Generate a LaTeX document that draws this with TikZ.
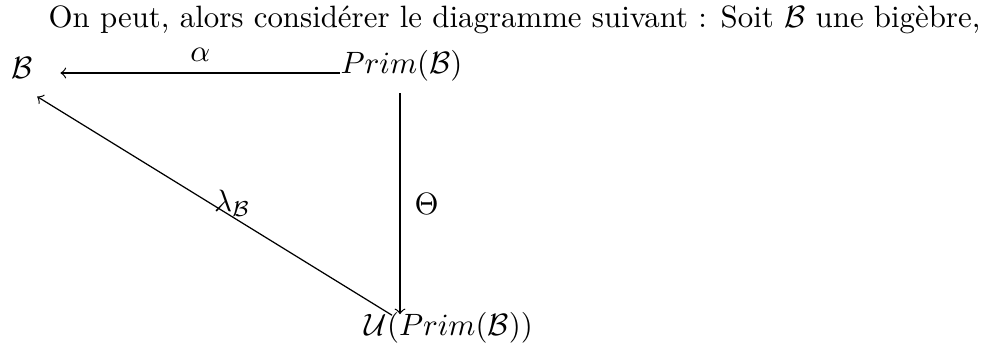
\documentclass[tikz,border=0pt]{standalone}
\usetikzlibrary{calc}

\begin{document}
\begin{tikzpicture}[x=0.324pt, y=-0.324pt, every node/.style={inner sep=0pt}]
        \useasboundingbox (0,0) rectangle (988,347);
        \node [anchor=base west] (intro) at (48,27) {On peut, alors consid\'erer le diagramme suivant : Soit $\mathcal{B}$ une big\`ebre,};
        \node [anchor=base west] (B) at (11,78) {$\mathcal{B}$};
        \node [anchor=base west] (prim) at (340,73) {$Prim(\mathcal{B})$};
        \node [anchor=base west] (U) at (364,335) {$\mathcal{U}(Prim(\mathcal{B}))$};
        \coordinate (alphaend) at ($(prim.base west -| B.east)+(27,0)$);
        \coordinate (thetastart) at ($(prim.south west)+(60,12)$);
        \coordinate (thetaend) at ($(U.north west)+(36,3)$);
        \coordinate (lambdastart) at ($(U.north west)+(28,4)$);
        \coordinate (lambdaend) at ($(B.south)+(15,18)$);
        \draw [->] (prim.base west) -- (alphaend) node [midway, above, inner sep=3.5pt] (alpha) {$\alpha$};
        \draw [->] (thetastart) -- (thetaend) node [midway, right, inner sep=4.5pt] (theta) {$\Theta$};
        \draw [->] (lambdastart) -- (lambdaend) node [pos=0.45, anchor=south] (lambda) {$\lambda_{\mathcal{B}}$};
      \end{tikzpicture}
\end{document}
